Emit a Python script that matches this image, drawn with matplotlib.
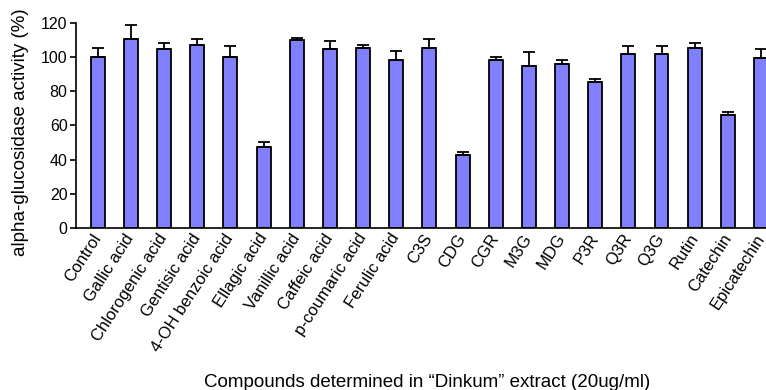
import matplotlib
matplotlib.use('Agg')
import matplotlib.pyplot as plt
import numpy as np

plt.rcParams['font.family'] = ['Liberation Sans', 'DejaVu Sans']

# Compounds and measured activity (% of control), upper SD
compounds = ['Control', 'Gallic acid', 'Chlorogenic acid', 'Gentisic acid',
             '4-OH benzoic acid', 'Ellagic acid', 'Vanillic acid', 'Caffeic acid',
             'p-coumaric acid', 'Ferulic acid', 'C3S', 'CDG', 'CGR', 'M3G', 'MDG',
             'P3R', 'Q3R', 'Q3G', 'Rutin', 'Catechin', 'Epicatechin']
activity = [100.0, 110.5, 104.4, 107.0, 100.0, 47.2, 109.7, 104.4, 105.2, 98.4,
            105.2, 42.8, 98.4, 94.9, 95.9, 85.3, 101.9, 101.9, 105.2, 66.2, 99.2]
sd = [5.3, 8.0, 3.5, 3.5, 6.2, 3.3, 1.6, 5.1, 1.9, 5.2,
      5.3, 1.8, 1.7, 8.0, 2.5, 1.8, 4.3, 4.3, 2.7, 1.8, 5.2]

x = np.arange(len(compounds))

fig = plt.figure(figsize=(7.66, 3.9), dpi=100)
ax = fig.add_axes([0.099, 0.415, 0.901, 0.527])

ax.bar(x, activity, width=0.42, color='#8080FF', edgecolor='black', linewidth=1.3,
       yerr=[np.zeros(len(sd)), sd],
       error_kw=dict(ecolor='black', elinewidth=1.3, capsize=4, capthick=1.3))

ax.set_xlim(-0.66, 20.15)
ax.set_ylim(0, 120)
ax.set_yticks(np.arange(0, 121, 20))
ax.set_xticks(x)
ax.set_xticklabels(compounds, rotation=57, ha='right', va='center',
                   rotation_mode='anchor', fontsize=12)
ax.tick_params(axis='x', length=0, pad=5)
ax.tick_params(axis='y', labelsize=11.5, length=4, width=1.2, direction='out', pad=2)
for s in ['top', 'right']:
    ax.spines[s].set_visible(False)
for s in ['left', 'bottom']:
    ax.spines[s].set_linewidth(1.2)

fig.text(0.027, 0.66, 'alpha-glucosidase activity (%)', rotation=90,
         ha='center', va='center', fontsize=13.5)
fig.text(0.558, 0.008, 'Compounds determined in \u201cDinkum\u201d extract (20ug/ml)',
         ha='center', va='baseline', fontsize=13.5)

fig.savefig('out.png', dpi=100)
